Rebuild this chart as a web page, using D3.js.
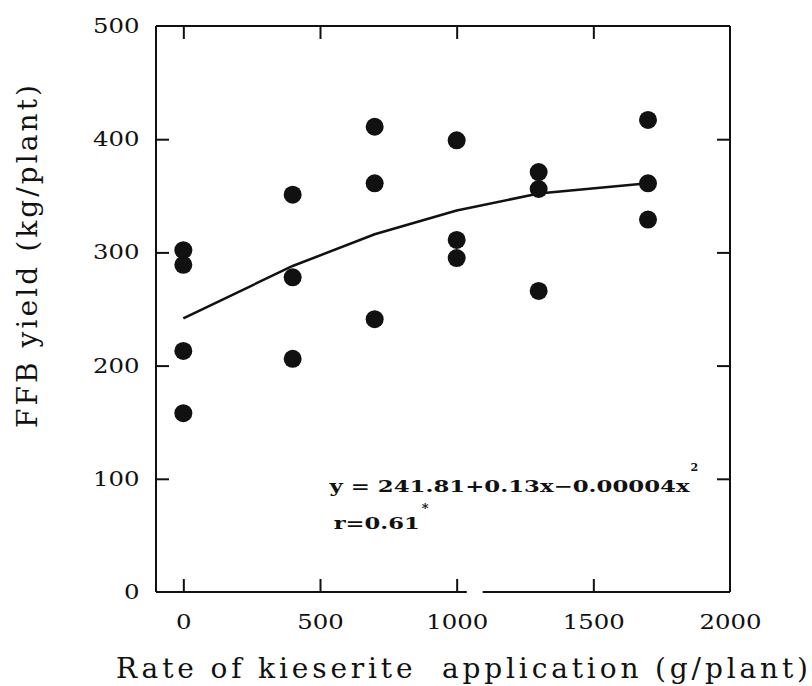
<!DOCTYPE html>
<html>
<head>
<meta charset="utf-8">
<script src="https://cdn.jsdelivr.net/npm/d3@7/dist/d3.min.js"></script>
<style>
  html, body { margin: 0; padding: 0; background: #fff; }
  svg { display: block; }
  text { font-family: "DejaVu Serif", "Liberation Serif", serif; fill: #111; }
</style>
</head>
<body>
<svg id="chart" width="812" height="686"></svg>
<script>
// Kieserite rate (g/plant) and FFB yield (kg/plant) for each plot
const rate = [0, 0, 0, 0, 400, 400, 400, 700, 700, 700, 1000, 1000, 1000, 1300, 1300, 1300, 1700, 1700, 1700];
const ffbYield = [302, 289, 213, 158, 351, 278, 206, 411, 361, 241, 399, 311, 295, 371, 356, 266, 417, 361, 329];

// Fitted quadratic response evaluated at each application rate
const fitRate = [0, 400, 700, 1000, 1300, 1700];
const fitYield = [241.8, 288, 316, 337, 352, 361];

// Axis ticks
const xTicks = [0, 500, 1000, 1500, 2000];
const yTicks = [0, 100, 200, 300, 400, 500];

// Annotation text
const equationText = "y = 241.81+0.13x\u22120.00004x";
const rText = "r=0.61";

// Short break in the bottom axis line (in g/plant)
const axisBreak = [1037, 1095];

const svg = d3.select("#chart");
const margin = { left: 156, top: 26, right: 82, bottom: 94 };
const W = 812 - margin.left - margin.right;
const H = 686 - margin.top - margin.bottom;

const g = svg.append("g").attr("transform", `translate(${margin.left},${margin.top})`);

const x = d3.scaleLinear().domain([-100, 2000]).range([0, W]);
const y = d3.scaleLinear().domain([0, 500]).range([H, 0]);

const TICK = 13;
const axisColor = "#111";
const DIGIT_CELL = 15.5; // typewriter-style width per numeral

// Stretch text to a typewriter pitch
function pitch(sel, len, mode) {
  sel.attr("textLength", len).attr("lengthAdjust", mode || "spacing");
}

// Bottom axis: inward ticks with labels below
const xAxis = g.append("g")
  .attr("transform", `translate(0,${H})`)
  .call(d3.axisBottom(x).tickValues(xTicks).tickSizeInner(-TICK).tickSizeOuter(0).tickFormat(d3.format("d")));
xAxis.select(".domain").remove();
xAxis.selectAll(".tick line").attr("stroke", axisColor).attr("stroke-width", 2)
  .filter(d => d === 2000).remove();
xAxis.selectAll(".tick text")
  .attr("y", 36.5).attr("dy", 0)
  .style("font-size", "20.5px")
  .attr("textLength", d => String(d).length * DIGIT_CELL)
  .attr("lengthAdjust", "spacingAndGlyphs");

// Left axis: inward ticks with labels to the left
const yAxis = g.append("g")
  .call(d3.axisLeft(y).tickValues(yTicks).tickSizeInner(-TICK).tickSizeOuter(0).tickPadding(16.5).tickFormat(d3.format("d")));
yAxis.select(".domain").remove();
yAxis.selectAll(".tick line").attr("stroke", axisColor).attr("stroke-width", 2)
  .filter(d => d === 0 || d === 500).remove();
yAxis.selectAll(".tick text")
  .style("font-size", "20.5px")
  .attr("textLength", d => String(d).length * DIGIT_CELL)
  .attr("lengthAdjust", "spacingAndGlyphs");

// Top and right axes: ticks only
const topAxis = g.append("g")
  .call(d3.axisTop(x).tickValues([0, 500, 1000, 1500]).tickSizeInner(-TICK).tickSizeOuter(0).tickFormat(""));
topAxis.select(".domain").remove();
topAxis.selectAll(".tick line").attr("stroke", axisColor).attr("stroke-width", 2);

const rightAxis = g.append("g")
  .attr("transform", `translate(${W},0)`)
  .call(d3.axisRight(y).tickValues([100, 200, 300, 400]).tickSizeInner(-TICK).tickSizeOuter(0).tickFormat(""));
rightAxis.select(".domain").remove();
rightAxis.selectAll(".tick line").attr("stroke", axisColor).attr("stroke-width", 2);

// Frame
const frame = g.append("g").attr("stroke", axisColor).attr("stroke-width", 2).attr("fill", "none");
frame.append("line").attr("x1", 0).attr("x2", W).attr("y1", 0).attr("y2", 0);
frame.append("line").attr("x1", 0).attr("x2", 0).attr("y1", 0).attr("y2", H);
frame.append("line").attr("x1", W).attr("x2", W).attr("y1", 0).attr("y2", H);
frame.append("line").attr("x1", 0).attr("x2", x(axisBreak[0])).attr("y1", H).attr("y2", H);
frame.append("line").attr("x1", x(axisBreak[1])).attr("x2", W).attr("y1", H).attr("y2", H);

// Fitted response line
const line = d3.line().x(d => x(d[0])).y(d => y(d[1]));
g.append("path")
  .datum(d3.zip(fitRate, fitYield))
  .attr("d", line)
  .attr("fill", "none")
  .attr("stroke", "#111")
  .attr("stroke-width", 2.5);

// Observations
g.append("g").selectAll("circle")
  .data(d3.zip(rate, ffbYield))
  .join("circle")
  .attr("cx", d => x(d[0]))
  .attr("cy", d => y(d[1]))
  .attr("r", 9)
  .attr("fill", "#111");

// Regression equation and correlation
const ann = g.append("g").style("font-weight", "bold").style("font-size", "17px");
const eqX = x(535), eqLen = 360;
ann.append("text")
  .attr("x", eqX).attr("y", y(88))
  .style("white-space", "pre")
  .call(pitch, eqLen, "spacingAndGlyphs")
  .text(equationText);
ann.append("text")
  .attr("x", eqX + eqLen + 1).attr("y", y(106.5))
  .style("font-size", "11px")
  .text("2");
const rX = x(550), rLen = 86;
ann.append("text")
  .attr("x", rX).attr("y", y(56))
  .call(pitch, rLen, "spacingAndGlyphs")
  .text(rText);
ann.append("text")
  .attr("x", rX + rLen + 2).attr("y", y(70))
  .style("font-size", "13px")
  .text("*");

// Axis titles
svg.append("text")
  .attr("x", 116).attr("y", 678)
  .style("font-size", "28px")
  .style("white-space", "pre")
  .call(pitch, 692)
  .text("Rate of kieserite  application (g/plant)");

svg.append("text")
  .attr("transform", "translate(37,428) rotate(-90)")
  .style("font-size", "28px")
  .call(pitch, 343)
  .text("FFB yield (kg/plant)");
</script>
</body>
</html>
